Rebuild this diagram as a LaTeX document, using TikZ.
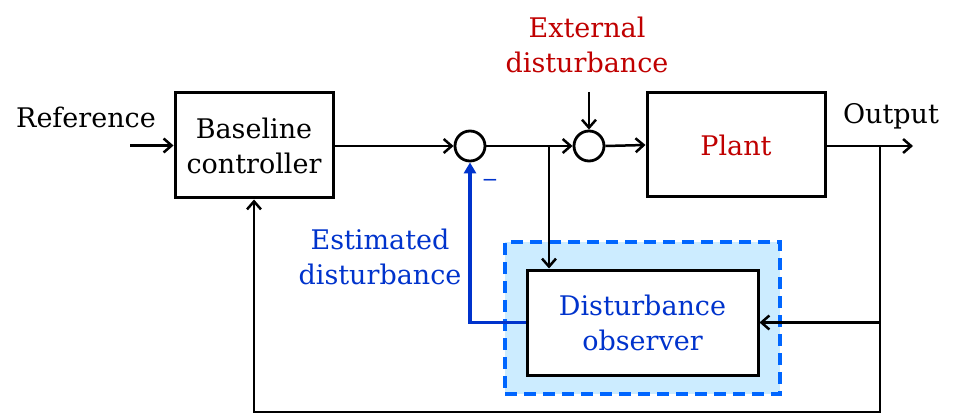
\documentclass[tikz,border=0pt]{standalone}
\usepackage{fontspec}
\setmainfont{DejaVu Serif}
\usetikzlibrary{arrows.meta}
\definecolor{dred}{RGB}{192,0,0}
\definecolor{dblue}{RGB}{0,51,204}
\definecolor{dashblue}{RGB}{0,102,255}
\definecolor{lightblue}{RGB}{204,236,255}
\begin{document}
\begin{tikzpicture}[x=1pt,y=-1pt,
  txt/.style={font=\fontsize{27}{35}\selectfont, align=center, inner sep=0pt},
  blk/.style={draw, line width=3pt, fill=white, txt, inner sep=0pt},
  sumnode/.style={draw, circle, line width=2.8pt, minimum size=30pt, inner sep=0pt},
  arr/.style={line width=2.5pt, -{Straight Barb[length=8pt,width=14pt,line width=2.5pt]}},
  barr/.style={line width=3.6pt, draw=dblue, -{Triangle[length=11pt,width=12pt]}, dblue}
]
\useasboundingbox (0,0) rectangle (954,417);
% dashed observer frame
\node[draw=dashblue, line width=3.2pt, dash pattern=on 12pt off 7pt, fill=lightblue,
      minimum width=275pt, minimum height=152pt] (frame) at (642.5,318) {};
% blocks
\node[blk, minimum width=158pt, minimum height=105pt] (bc) at (254,145.5) {Baseline\\controller};
\node[blk, minimum width=178pt, minimum height=104pt, text=dred] (plant) at (736,145) {Plant};
\node[blk, minimum width=231pt, minimum height=105pt, text=dblue] (obs) at (642.5,322.5) {Disturbance\\observer};
\node[sumnode] (s1) at (470,146) {};
\node[sumnode] (s2) at (589,146) {};
% labels
\node[txt] (ref) at (86,117) {Reference};
\node[txt] (outl) at (891,116) {Output};
\node[txt, text=dred] (ext) at (587,45) {External\\disturbance};
\node[txt, text=dblue] (est) at (380,257) {Estimated\\disturbance};
\node[font=\fontsize{20}{20}\selectfont, text=dblue, inner sep=0pt] (minus) at (490,183) {−};
% coordinates
\coordinate (in) at (130,145.5);
\coordinate (out) at (913,146);
\coordinate (b1) at (549,146);
\coordinate (b2) at (880,146);
\coordinate (bot) at (880,412);
\coordinate (edtop) at (589,92);
% connectors
\draw[arr] (in) -- (bc.west);
\draw[arr] (bc.east |- s1) -- (s1.west);
\draw[arr] (s1.east) -- (s2.west);
\draw[arr] (b1) -- (b1 |- obs.north);
\draw[arr] (s2.east) -- (plant.west);
\draw[arr] (plant.east |- out) -- (out);
\draw[arr] (edtop) -- (s2.north);
\draw[arr] (b2) -- (bot) -| (bc.south);
\draw[arr] (obs.east -| b2) -- (obs.east);
\draw[barr] (obs.west) -| (s1.south);
\end{tikzpicture}
\end{document}
